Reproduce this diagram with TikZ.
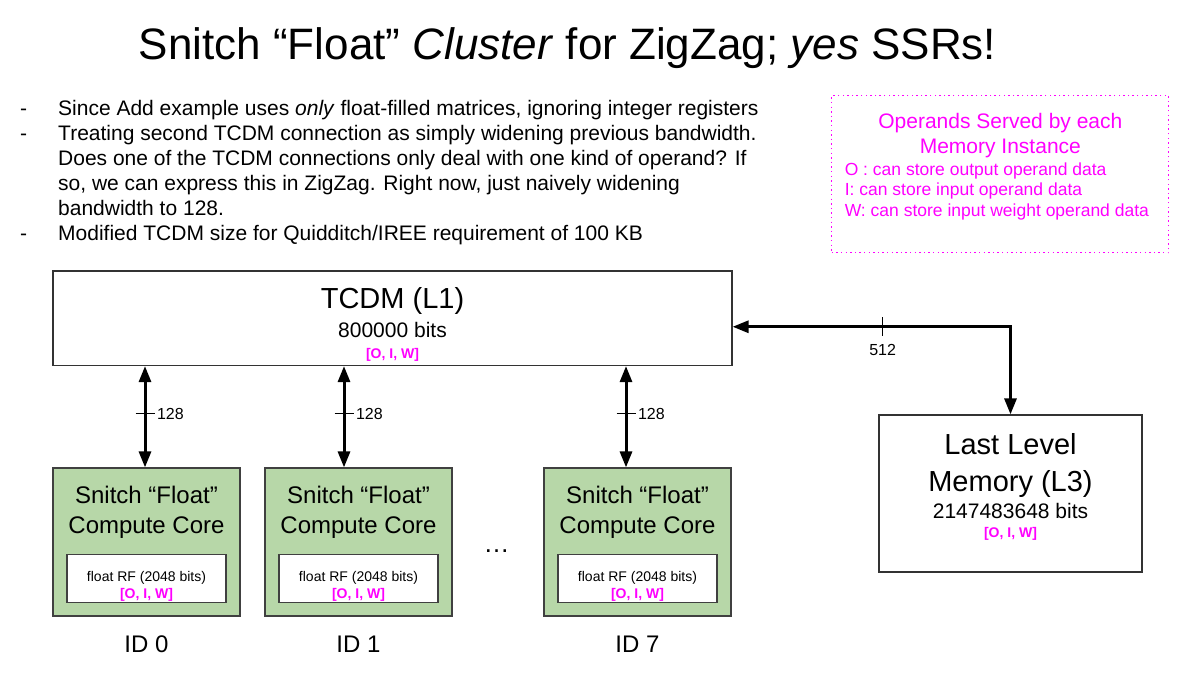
\documentclass[tikz,border=0pt]{standalone}
\usepackage{fontspec}
\setmainfont{Liberation Sans}
\usetikzlibrary{positioning,arrows.meta,calc}
\definecolor{coregreen}{HTML}{B7D7A8}
\definecolor{opsmagenta}{HTML}{FF00FF}
\newcommand{\fsz}[2]{\fontsize{#1pt}{#2pt}\selectfont}

\begin{document}
\begin{tikzpicture}[x=1pt, y=-1pt,
	mem/.style={draw=black!80, fill=white, line width=1.2pt, inner sep=0},
	core/.style={draw=black!75, fill=coregreen, line width=1.2pt, minimum width=187pt, minimum height=148pt, inner sep=0},
	rf/.style={draw=black!75, fill=white, line width=1.2pt, minimum width=159pt, minimum height=48pt, inner sep=0},
	ops/.style={text=opsmagenta, font=\fsz{14}{17}\bfseries, anchor=base, inner sep=0},
	corename/.style={font=\fsz{24}{30}, anchor=base, inner sep=0},
	rfname/.style={font=\fsz{14}{17}, anchor=base, inner sep=0},
	idlabel/.style={font=\fsz{24}{28}, anchor=base, inner sep=0},
	bus/.style={line width=3pt, {Triangle[length=16pt,width=12pt]}-{Triangle[length=16pt,width=12pt]}},
	tick/.style={line width=1pt},
	wlabel/.style={font=\fsz{16}{19}, inner sep=0}]
	\useasboundingbox (0,0) rectangle (1189,681);

	\node[anchor=base, font=\fsz{44}{53}, inner sep=0] (title) at (567.5,59) {Snitch “Float” \textit{Cluster} for ZigZag; \textit{yes} SSRs!};

	\node[anchor=base west, font=\fsz{21}{25}, inner sep=0] (notes) at (20,115) {\begin{tabular}[t]{@{}p{38pt}@{}l@{}}
		- & Since Add example uses \textit{only} float-filled matrices, ignoring integer registers\\
		- & Treating second TCDM connection as simply widening previous bandwidth.\\
		  & Does one of the TCDM connections only deal with one kind of operand? If\\
		  & so, we can express this in ZigZag. Right now, just naively widening\\
		  & bandwidth to 128.\\
		- & Modified TCDM size for Quidditch/IREE requirement of 100 KB
	\end{tabular}};

	\node[draw=opsmagenta, line width=1.2pt, dash pattern=on 1.4pt off 3.2pt, minimum width=337pt, minimum height=157pt, inner sep=0] (legend) at (1000.35,174.2) {};
	\node[anchor=base, text=opsmagenta, font=\fsz{21}{24.7}, inner sep=0] (legendhead) at ([yshift=-33.6pt]legend.north) {\begin{tabular}[t]{@{}c@{}}Operands Served by each\\Memory Instance\end{tabular}};
	\node[anchor=base west, text=opsmagenta, font=\fsz{17.5}{20.5}, inner sep=0] (legendkeys) at ([xshift=13.3pt, yshift=-80pt]legend.north west) {\begin{tabular}[t]{@{}l@{}}O : can store output operand data\\I: can store input operand data\\W: can store input weight operand data\end{tabular}};

	\node[mem, minimum width=679pt, minimum height=94.5pt] (tcdm) at (392.5,318.25) {};
	\node[anchor=base, font=\fsz{29}{34}, inner sep=0] (tcdmname) at ([yshift=-38.5pt]tcdm.north) {TCDM (L1)};
	\node[anchor=base, font=\fsz{21}{25}, inner sep=0] (tcdmbits) at ([yshift=-67.3pt]tcdm.north) {800000 bits};
	\node[ops] (tcdmops) at ([yshift=-88pt]tcdm.north) {[O, I, W]};

	\node[mem, minimum width=263pt, minimum height=157pt] (l3) at (1010.5,493.5) {};
	\node[anchor=base, font=\fsz{29}{36.7}, inner sep=0] (l3name) at ([yshift=-40pt]l3.north) {\begin{tabular}[t]{@{}c@{}}Last Level\\Memory (L3)\end{tabular}};
	\node[anchor=base, font=\fsz{21}{25}, inner sep=0] (l3bits) at ([yshift=-104pt]l3.north) {2147483648 bits};
	\node[ops] (l3ops) at ([yshift=-123.3pt]l3.north) {[O, I, W]};

	\node[core] (c0) at (146.5,542) {};
	\node[core, right=23.8pt of c0] (c1) {};
	\node[core, right=90.8pt of c1] (c7) {};

	\node[corename] (c0name) at ([yshift=-36pt]c0.north) {\begin{tabular}[t]{@{}c@{}}Snitch “Float”\\Compute Core\end{tabular}};
	\node[corename] (c1name) at ([yshift=-36pt]c1.north) {\begin{tabular}[t]{@{}c@{}}Snitch “Float”\\Compute Core\end{tabular}};
	\node[corename] (c7name) at ([yshift=-36pt]c7.north) {\begin{tabular}[t]{@{}c@{}}Snitch “Float”\\Compute Core\end{tabular}};

	\node[rf, above=13.7pt of c0.south] (rf0) {};
	\node[rf, above=13.7pt of c1.south] (rf1) {};
	\node[rf, above=13.7pt of c7.south] (rf7) {};
	\node[rfname] (rf0name) at ([yshift=-27.4pt]rf0.north) {float RF (2048 bits)};
	\node[rfname] (rf1name) at ([yshift=-27.4pt]rf1.north) {float RF (2048 bits)};
	\node[rfname] (rf7name) at ([yshift=-27.4pt]rf7.north) {float RF (2048 bits)};
	\node[ops] (rf0ops) at ([yshift=-44.7pt]rf0.north) {[O, I, W]};
	\node[ops] (rf1ops) at ([yshift=-44.7pt]rf1.north) {[O, I, W]};
	\node[ops] (rf7ops) at ([yshift=-44.7pt]rf7.north) {[O, I, W]};

	\node[idlabel] (id0) at ([yshift=-35.5pt]c0.south) {ID 0};
	\node[idlabel] (id1) at ([yshift=-35.5pt]c1.south) {ID 1};
	\node[idlabel] (id7) at ([yshift=-35.5pt]c7.south) {ID 7};

	\coordinate (gap) at ($(c1.south)!.5!(c7.south)$);
	\node[anchor=base, font=\fsz{26}{30}, inner sep=0] (dots) at ([xshift=-1.5pt, yshift=64pt]gap) {…};

	\draw[bus] ([xshift=-1.5pt]c0.north) -- coordinate[pos=.53] (w0) ([xshift=-1.5pt]c0.north |- tcdm.south);
	\draw[bus] ([xshift=-14.5pt]c1.north) -- coordinate[pos=.53] (w1) ([xshift=-14.5pt]c1.north |- tcdm.south);
	\draw[bus] ([xshift=-11.5pt]c7.north) -- coordinate[pos=.53] (w7) ([xshift=-11.5pt]c7.north |- tcdm.south);
	\draw[tick] (w0) +(-9.5,0) -- +(9.5,0) node[wlabel, anchor=west, xshift=2pt] (l0) {128};
	\draw[tick] (w1) +(-9.5,0) -- +(9.5,0) node[wlabel, anchor=west, xshift=2pt] (l1) {128};
	\draw[tick] (w7) +(-9.5,0) -- +(9.5,0) node[wlabel, anchor=west, xshift=2pt] (l7) {128};

	\draw[bus] ([yshift=-8.5pt]tcdm.east) -| coordinate[pos=.27] (w512) (l3.north);
	\draw[tick] (w512) +(0,-9.5) -- +(0,9.5);
	\node[wlabel, anchor=base] (l512) at ([yshift=-28.3pt]w512) {512};
\end{tikzpicture}
\end{document}
